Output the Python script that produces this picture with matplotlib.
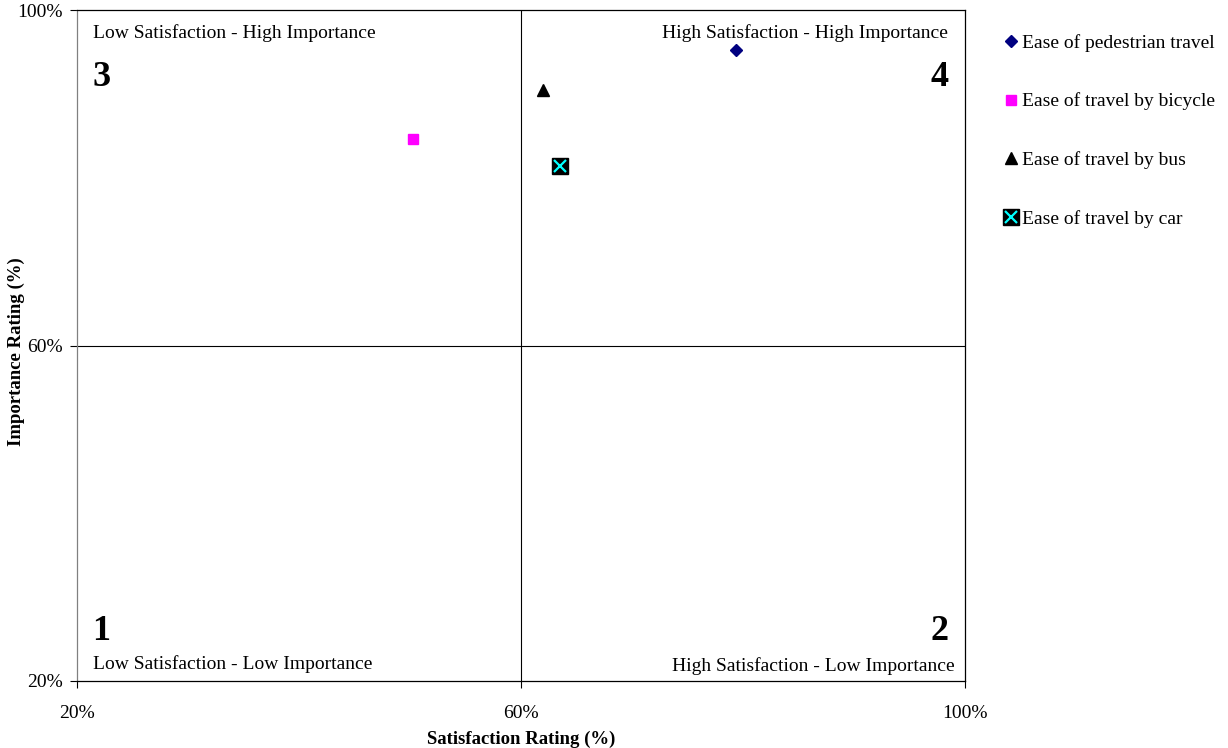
import matplotlib.pyplot as plt
from matplotlib.legend_handler import HandlerTuple
from matplotlib.ticker import FuncFormatter

plt.rcParams['font.family'] = ['Liberation Serif', 'DejaVu Serif']

# satisfaction / importance ratings (%)
items = ["Ease of pedestrian travel", "Ease of travel by bicycle",
         "Ease of travel by bus", "Ease of travel by car"]
satisfaction = [79.4, 50.3, 62.0, 63.5]
importance = [95.2, 84.6, 90.5, 81.4]
ticks = [20, 60, 100]

W, H = 1228, 748
fig = plt.figure(figsize=(W / 100, H / 100), dpi=100)
ax = fig.add_axes([0.0627, 0.0896, 0.7231, 0.897])

h_ped, = ax.plot(satisfaction[0], importance[0], 'D', color='#000080', ms=6, ls='none')
h_bic, = ax.plot(satisfaction[1], importance[1], 's', color='#ff00ff', ms=7, ls='none')
h_bus, = ax.plot(satisfaction[2], importance[2], '^', color='black', ms=8, ls='none')
h_car1, = ax.plot(satisfaction[3], importance[3], 's', color='black', ms=11, ls='none')
h_car2, = ax.plot(satisfaction[3], importance[3], 'x', color='#00ffff', ms=9, mew=1.6, ls='none')

ax.axvline(60, color='black', lw=0.8)
ax.axhline(60, color='black', lw=0.8)

ax.set_xlim(20, 100)
ax.set_ylim(20, 100)
ax.set_xticks(ticks)
ax.set_yticks(ticks)
pct = FuncFormatter(lambda v, p: f"{v:.0f}%")
ax.xaxis.set_major_formatter(pct)
ax.yaxis.set_major_formatter(pct)
ax.tick_params(axis='x', labelsize=14, direction='out', length=5, width=0.8, pad=12)
ax.tick_params(axis='y', labelsize=14, direction='out', length=5, width=0.8, pad=5)
for side in ['top', 'right', 'bottom']:
    ax.spines[side].set_color('black')
ax.spines['left'].set_color('#808080')
for s in ax.spines.values():
    s.set_linewidth(0.9)

# axis titles placed in figure pixels so they sit close to the edges
fig.text(521 / W, 1 - 739 / H, "Satisfaction Rating (%)", fontsize=13.5,
         fontweight='bold', ha='center', va='center')
fig.text(16 / W, 1 - 352 / H, "Importance Rating (%)", fontsize=13.5,
         fontweight='bold', ha='center', va='center', rotation=90)

# quadrant captions and numbers
ax.text(21.4, 97.3, "Low Satisfaction - High Importance", fontsize=14, va='center')
ax.text(98.5, 97.3, "High Satisfaction - High Importance", fontsize=14, va='center', ha='right')
ax.text(21.4, 22.0, "Low Satisfaction - Low Importance", fontsize=14, va='center')
ax.text(99.1, 21.8, "High Satisfaction - Low Importance", fontsize=14, va='center', ha='right')
ax.text(21.4, 92.0, "3", fontsize=26, fontweight='bold', va='center')
ax.text(98.5, 92.0, "4", fontsize=26, fontweight='bold', va='center', ha='right')
ax.text(21.4, 25.9, "1", fontsize=26, fontweight='bold', va='center')
ax.text(98.5, 25.9, "2", fontsize=26, fontweight='bold', va='center', ha='right')

fig.legend([h_ped, h_bic, h_bus, (h_car1, h_car2)], items,
           handler_map={tuple: HandlerTuple(ndivide=1, pad=0)},
           loc='upper left', bbox_to_anchor=(995 / W, 1 - 26 / H), frameon=False,
           fontsize=14, labelspacing=2.1, handlelength=0.8, handletextpad=0.2,
           borderaxespad=0)

fig.savefig("out.png", dpi=100)
